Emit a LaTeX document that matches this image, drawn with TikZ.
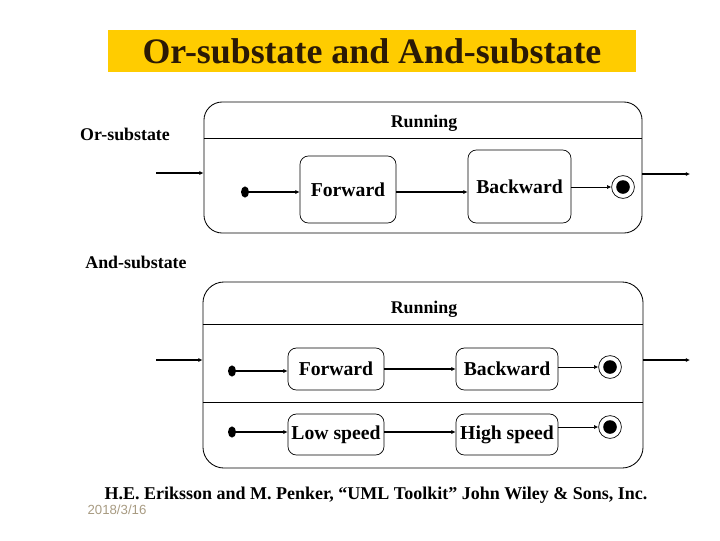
\documentclass[tikz,border=0pt]{standalone}
\usepackage{fontspec}
\setmainfont{Liberation Serif}
\newfontfamily\datefont{Liberation Sans}
\usepackage{xcolor}
\usepackage{tikz}
\usetikzlibrary{positioning,shapes.geometric,arrows.meta}
\definecolor{titlebar}{HTML}{FFCC00}
\definecolor{titletext}{HTML}{2B1A05}
\definecolor{datetext}{HTML}{A89B82}

\begin{document}
\begin{tikzpicture}[
  x=0.025cm, y=-0.025cm,
  statebox/.style={
    rectangle, draw, rounded corners=6pt, line width=0.5pt,
    inner sep=0pt, font=\fontsize{14}{16}\selectfont\bfseries,
  },
  runbox/.style={rectangle, draw, line width=0.6pt, inner sep=0pt},
  initdot/.style={ellipse, fill=black, inner sep=0pt, minimum width=0.2cm, minimum height=0.28cm},
  enddot/.style={
    circle, draw, line width=0.5pt, inner sep=0pt, minimum size=0.57cm,
    path picture={\fill (path picture bounding box.center) circle (0.17cm);},
  },
  trans/.style={line width=1pt, -{Latex[length=3pt,width=3pt]}},
  thintrans/.style={line width=0.5pt, -{Latex[length=3pt,width=3pt]}},
  tag/.style={font=\fontsize{12.7}{15}\selectfont\bfseries},
]
\useasboundingbox (0,0) rectangle (720,540);

\node[rectangle, fill=titlebar, minimum width=13.2cm, minimum height=1.05cm, inner sep=0pt,
  font=\fontsize{25.5}{28}\selectfont\bfseries, text=titletext] (title) at (372,51) {Or-substate and And-substate};

% or-substate
\node[tag] (ortag) at (125,134) {Or-substate};
\node[runbox, rounded corners=13pt, minimum width=10.95cm, minimum height=3.275cm] (run1) at (423,167.5) {};
\draw[line width=0.6pt] (run1.west |- 0,138) -- (run1.east |- 0,138);
\node[tag] (runtag1) at (424,123) {Running};

\coordinate (in1) at (156,173);
\coordinate (out1) at (690,174);
\draw[trans] (in1) -- (in1 -| run1.west);
\draw[trans] (run1.east |- out1) -- (out1);

\node[initdot] (init1) at (245,192) {};
\node[statebox, minimum width=2.4cm, minimum height=1.675cm] (fwd1) at (348,189.5) {Forward};
\node[statebox, minimum width=2.575cm, minimum height=1.825cm] (bwd1) at (519.5,186.5) {Backward};
\node[enddot] (end1) at (623,187) {};

\draw[trans] (init1) -- (init1 -| fwd1.west);
\draw[trans] (fwd1.east |- init1) -- (init1 -| bwd1.west);
\draw[thintrans] (bwd1.east |- end1) -- (end1);

% and-substate
\node[tag] (andtag) at (136,262) {And-substate};
\node[runbox, rounded corners=15pt, minimum width=11cm, minimum height=4.65cm] (run2) at (423,375) {};
\draw[line width=0.6pt] (run2.west |- 0,324) -- (run2.east |- 0,324);
\draw[line width=0.6pt] (run2.west |- 0,402) -- (run2.east |- 0,402);
\node[tag] (runtag2) at (424,309) {Running};

\coordinate (in2) at (156,360);
\coordinate (out2) at (690,360);
\draw[trans] (in2) -- (in2 -| run2.west);
\draw[trans] (run2.east |- out2) -- (out2);

\node[initdot] (init2) at (232,371) {};
\node[statebox, minimum width=2.4cm, minimum height=1.05cm] (fwd2) at (336,369) {Forward};
\node[statebox, minimum width=2.55cm, minimum height=1.05cm] (bwd2) at (507,369) {Backward};
\node[enddot] (end2) at (610,367) {};

\node[initdot] (init3) at (232,432) {};
\node[statebox, minimum width=2.4cm, minimum height=1.025cm] (low) at (336,434.5) {Low speed};
\node[statebox, minimum width=2.55cm, minimum height=1.025cm] (high) at (507,434.5) {High speed};
\node[enddot] (end3) at (610,427) {};

\draw[trans] (init2) -- (init2 -| fwd2.west);
\draw[trans] (fwd2) -- (bwd2);
\draw[thintrans] (bwd2.east |- end2) -- (end2);
\draw[trans] (init3) -- (init3 -| low.west);
\draw[trans] (low.east |- init3) -- (init3 -| high.west);
\draw[thintrans] (high.east |- end3) -- (end3);

\node[font=\fontsize{12.8}{15}\selectfont\bfseries] (cite) at (376,495) {H.E. Eriksson and M. Penker, “UML Toolkit” John Wiley \& Sons, Inc.};
\node[font=\datefont\fontsize{9.4}{11}\selectfont, text=datetext] (date) at (117,510) {2018/3/16};

\end{tikzpicture}
\end{document}
